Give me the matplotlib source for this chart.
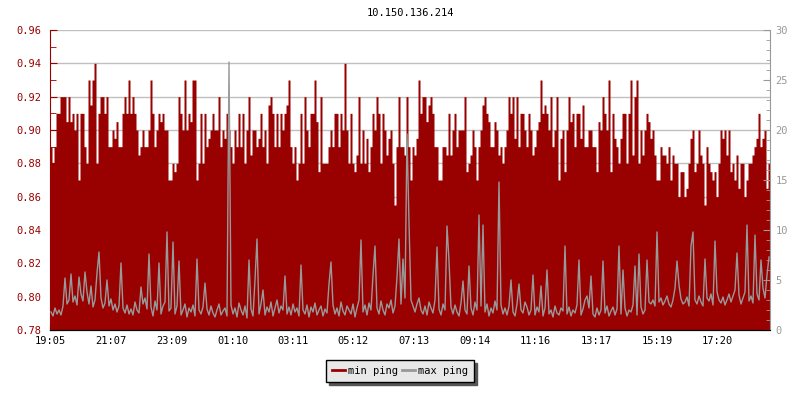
import numpy as np
import matplotlib
matplotlib.use("Agg")
import matplotlib.pyplot as plt

# ---- data (4-minute buckets over 24h) ----
min_ping_a = [0.89,0.88,0.89,0.91,0.91,0.92,0.92,0.92,0.905,0.92,
              0.905,0.91,0.90,0.91,0.87,0.91,0.91,0.89,0.88,0.93,
              0.915,0.93,0.94,0.88,0.91,0.92,0.92,0.91,0.92,0.89,
              0.89,0.90,0.895,0.905,0.89,0.89,0.91,0.92,0.91,0.93,
              0.91,0.92,0.91,0.90,0.885,0.89,0.90,0.89,0.89,0.90,
              0.93,0.91,0.89,0.90,0.91,0.905,0.91,0.90,0.90,0.87]
min_ping_b = [0.87,0.88,0.875,0.88,0.92,0.91,0.90,0.93,0.90,0.91,
              0.905,0.93,0.93,0.87,0.88,0.91,0.88,0.91,0.89,0.895,
              0.90,0.91,0.90,0.90,0.92,0.89,0.90,0.895,0.91,0.90,
              0.89,0.88,0.90,0.89,0.91,0.89,0.91,0.88,0.90,0.92,
              0.885,0.90,0.90,0.89,0.895,0.91,0.89,0.90,0.88,0.915,
              0.92,0.91,0.89,0.91,0.89,0.91,0.90,0.91,0.915,0.93]
min_ping_c = [0.89,0.88,0.89,0.87,0.88,0.91,0.88,0.92,0.90,0.89,
              0.91,0.91,0.93,0.905,0.875,0.92,0.88,0.88,0.88,0.89,
              0.90,0.89,0.91,0.91,0.89,0.91,0.90,0.94,0.90,0.88,
              0.91,0.88,0.875,0.885,0.92,0.88,0.90,0.88,0.895,0.875,
              0.89,0.91,0.90,0.92,0.91,0.88,0.91,0.90,0.885,0.895,
              0.90,0.88,0.855,0.89,0.92,0.89,0.89,0.885,0.92,0.89]
min_ping_d = [0.87,0.89,0.885,0.895,0.93,0.91,0.92,0.92,0.905,0.915,
              0.92,0.91,0.89,0.89,0.87,0.87,0.89,0.89,0.885,0.91,
              0.885,0.90,0.91,0.89,0.90,0.90,0.90,0.92,0.875,0.88,
              0.885,0.90,0.89,0.87,0.89,0.90,0.915,0.92,0.91,0.905,
              0.89,0.89,0.905,0.90,0.885,0.89,0.88,0.89,0.90,0.92,
              0.91,0.92,0.895,0.92,0.89,0.91,0.91,0.90,0.89,0.91]
min_ping_e = [0.90,0.885,0.89,0.90,0.905,0.93,0.91,0.915,0.91,0.90,
              0.92,0.89,0.90,0.92,0.87,0.895,0.90,0.875,0.90,0.92,
              0.905,0.91,0.89,0.91,0.91,0.895,0.915,0.89,0.89,0.90,
              0.90,0.89,0.89,0.875,0.905,0.90,0.92,0.91,0.90,0.93,
              0.875,0.91,0.895,0.89,0.88,0.895,0.91,0.91,0.88,0.91,
              0.93,0.885,0.92,0.93,0.88,0.90,0.885,0.90,0.91,0.905]
min_ping_f = [0.895,0.90,0.885,0.87,0.87,0.89,0.885,0.885,0.88,0.89,
              0.87,0.885,0.88,0.88,0.86,0.875,0.875,0.86,0.865,0.88,
              0.895,0.90,0.875,0.88,0.90,0.885,0.88,0.855,0.89,0.88,
              0.875,0.87,0.875,0.86,0.88,0.90,0.895,0.90,0.885,0.90,
              0.875,0.88,0.87,0.885,0.865,0.88,0.88,0.86,0.87,0.88,
              0.88,0.885,0.89,0.895,0.91,0.89,0.895,0.90,0.865,0.88]

max_ping_a = [1.8,1.4,2.2,1.6,2.0,1.5,2.4,5.2,2.6,3.0,
              5.6,2.8,3.4,2.5,5.3,3.6,2.9,5.8,3.8,2.6,
              4.4,2.3,3.0,5.7,7.8,3.2,2.2,2.7,5.0,2.4,
              3.1,2.0,2.6,1.8,2.4,6.7,2.2,1.7,2.5,1.6,
              2.1,1.5,2.8,2.0,1.7,4.3,2.6,3.2,2.1,7.6,
              2.3,1.4,2.9,2.0,6.7,1.6,2.4,2.8,9.8,1.9]
max_ping_b = [2.2,8.8,1.6,2.4,6.9,1.5,2.0,2.6,1.3,2.2,
              1.8,2.5,1.4,7.1,2.0,1.6,2.3,4.7,2.1,1.5,
              2.4,1.7,1.3,2.0,2.6,1.5,1.9,2.2,1.4,26.8,
              2.5,1.6,2.2,1.3,2.7,2.0,1.5,2.4,1.2,7.0,
              2.1,1.4,5.0,9.1,1.6,2.6,4.0,1.5,2.3,1.8,
              2.8,1.4,2.2,3.0,1.7,2.4,2.0,5.4,1.6,2.3]
max_ping_c = [1.5,2.6,1.8,2.2,1.4,6.5,2.0,1.6,2.5,1.3,
              2.3,1.8,2.7,1.5,2.0,2.4,1.4,2.1,1.7,4.6,
              6.8,2.5,1.6,2.2,1.4,2.8,1.9,1.5,2.4,2.0,
              1.6,2.6,1.3,2.2,3.0,9.0,1.8,2.5,1.5,2.7,
              2.0,5.5,8.4,2.2,1.6,2.9,2.0,1.5,2.6,2.2,
              3.0,1.7,2.4,5.3,9.1,2.6,7.1,3.2,19.6,10.7]
max_ping_d = [3.0,2.4,1.8,2.6,3.2,2.0,1.6,2.4,1.5,2.8,
              2.2,1.7,3.0,8.3,2.1,1.5,2.6,2.0,10.4,6.9,
              2.3,1.6,2.5,1.8,1.4,2.7,4.9,2.0,1.6,6.4,
              2.2,1.5,2.8,2.0,11.5,2.4,10.5,1.8,2.6,1.4,
              2.2,1.7,2.9,2.0,14.8,2.5,1.6,2.2,1.5,2.4,
              5.0,1.8,1.4,2.6,4.6,2.0,1.7,2.8,2.3,1.5]
max_ping_e = [2.0,5.5,1.5,2.3,1.8,4.4,1.4,2.2,6.0,1.6,
              2.0,1.3,2.4,1.7,1.5,2.2,1.9,8.4,1.6,2.3,
              1.4,2.0,1.7,2.5,7.0,1.5,2.1,3.0,3.4,2.2,
              5.4,1.6,1.3,2.2,1.5,2.0,6.9,1.7,2.4,1.4,
              1.9,2.3,1.5,2.1,8.4,1.6,6.0,2.2,1.4,2.0,
              1.8,2.5,6.4,1.5,7.6,2.3,1.6,2.0,7.0,2.8]
max_ping_f = [2.6,3.0,2.4,9.8,2.8,3.2,2.5,2.9,3.4,2.6,
              2.3,3.0,4.2,6.9,4.5,3.1,2.6,2.8,3.3,2.4,
              8.4,9.8,3.0,2.6,3.4,2.8,2.4,7.1,3.2,2.9,
              3.6,2.5,8.9,3.8,3.0,2.7,3.3,2.5,3.0,3.6,
              2.8,3.4,4.0,7.7,3.5,2.6,3.2,3.8,10.5,2.9,
              3.4,2.7,9.5,3.6,3.0,7.0,4.2,3.2,5.5,7.3]

tick_labels = ["19:05", "21:07", "23:09", "01:10", "03:11", "05:12",
               "07:13", "09:14", "11:16", "13:17", "15:19", "17:20"]
tick_minutes = [0, 122, 244, 365, 486, 607, 728, 849, 971, 1092, 1214, 1335]
span_minutes = 1440
title = "10.150.136.214"

min_ping = np.array(min_ping_a + min_ping_b + min_ping_c +
                    min_ping_d + min_ping_e + min_ping_f)
max_ping = np.array(max_ping_a + max_ping_b + max_ping_c +
                    max_ping_d + max_ping_e + max_ping_f)
n = len(min_ping)
step = span_minutes / n
t_edges = np.arange(n + 1) * step
t_mid = t_edges[:-1] + step / 2

RED = "#990000"
GRAY = "#999999"
FONT = "DejaVu Sans Mono"
FS = 7.5

fig = plt.figure(figsize=(8, 4), dpi=100)
ax = fig.add_axes([50/800, 1 - 330/400, 720/800, 300/400])
ax2 = ax.twinx()

ax.set_ylim(0.78, 0.96)
ax.set_xlim(0, span_minutes)
ax.set_yticks(np.arange(0.78, 0.9601, 0.02))
ax.set_yticks(np.arange(0.78, 0.9601, 0.01), minor=True)
ax.yaxis.grid(True, color="#c0c0c0", linewidth=1)
ax.set_axisbelow(True)

ax.fill_between(t_edges, np.append(min_ping, min_ping[-1]), 0.78,
                step="post", color=RED, linewidth=0, label="min ping")

ax2.set_ylim(0, 30)
ax2.set_yticks(np.arange(0, 31, 5))
ax2.set_yticks(np.arange(0, 31, 1), minor=True)
ax2.plot(t_mid, max_ping, color=GRAY, linewidth=1, label="max ping")

ax.set_xticks(tick_minutes)
ax.set_xticklabels(tick_labels)
ax.set_yticklabels([f"{v:.2f}" for v in np.arange(0.78, 0.9601, 0.02)])

for a in (ax, ax2):
    a.spines["top"].set_visible(False)
ax.spines["left"].set_color(RED)
ax.spines["right"].set_visible(False)
ax2.spines["left"].set_visible(False)
ax2.spines["right"].set_color(GRAY)
ax2.spines["bottom"].set_color("black")

ax.tick_params(axis="y", which="both", direction="in", colors=RED,
               length=5, pad=6, labelsize=FS)
ax.tick_params(axis="y", which="minor", length=4)
ax.tick_params(axis="x", direction="in", length=5, pad=4, labelsize=FS,
               colors="black")
ax2.tick_params(axis="y", which="major", direction="in", colors=GRAY,
                length=5, pad=4, labelsize=FS)
ax2.tick_params(axis="y", which="minor", direction="in", colors=GRAY,
                length=3)
for lab in ax.get_xticklabels() + ax.get_yticklabels() + ax2.get_yticklabels():
    lab.set_fontfamily(FONT)

ax.set_title(title, fontfamily=FONT, fontsize=FS, pad=10)

handles = [plt.Line2D([], [], color=RED, linewidth=2),
           plt.Line2D([], [], color=GRAY, linewidth=2)]
leg = fig.legend(handles, ["min ping", "max ping"], loc="center",
                 bbox_to_anchor=(0.5, 1 - 371/400), ncol=2,
                 prop={"family": FONT, "size": FS}, frameon=True,
                 fancybox=False, edgecolor="black", facecolor="#e8e8e8",
                 framealpha=1, handlelength=1.2, handletextpad=0.3,
                 columnspacing=0.4, borderpad=0.6,
                 shadow={"color": "#555555", "alpha": 1})
leg.get_frame().set_linewidth(1)

fig.savefig("out.png", dpi=100)
